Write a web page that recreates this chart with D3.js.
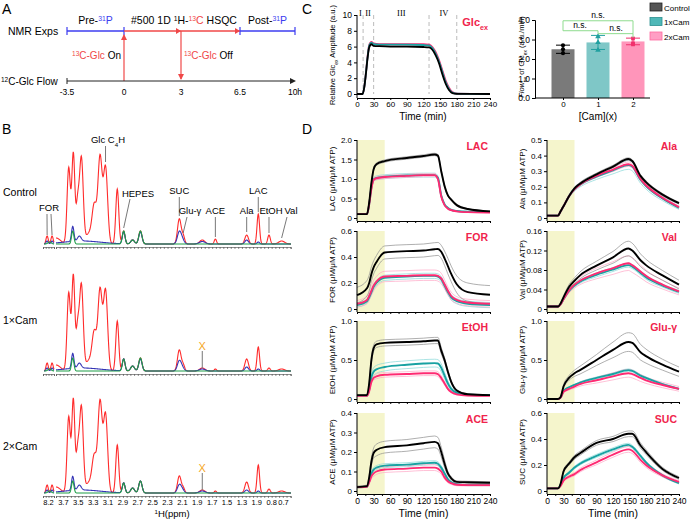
<!DOCTYPE html>
<html>
<head>
<meta charset="utf-8">
<script src="https://cdn.jsdelivr.net/npm/d3@7"></script>
<style>
body { margin: 0; background: #fff; }
svg { display: block; font-family: "Liberation Sans", Arial, sans-serif; }
</style>
</head>
<body>
<svg id="fig" width="693" height="519"></svg>
<script>
// ---------- data ----------
// panel A timeline (hours)
const timeTicks = [-3.5, 0, 3, 6.5, 10];
const timeLabels = ["-3.5", "0", "3", "6.5", "10h"];
const glcOn = 0, glcOff = 3;

// panel B peaks: [ppm, height, width]
const forRed = [[8.225, 8, 0.02], [8.135, 8, 0.02]];
const forBlue = [[8.225, 3, 0.02], [8.135, 3, 0.02]];
const forGreen = [[8.18, 2, 0.03]];
const ctrlRed = [[3.80, 6, 0.06], [3.629, 76, 0.022], [3.567, 90, 0.02], [3.51, 38, 0.02], [3.459, 86, 0.025], [3.36, 10, 0.04], [3.285, 38, 0.03], [3.208, 86, 0.028], [3.134, 76, 0.028], [2.976, 55, 0.02], [2.89, 13, 0.018], [2.77, 4, 0.025], [2.665, 13, 0.022], [2.142, 25, 0.024], [2.09, 8, 0.02], [1.833, 4, 0.035], [1.657, 5, 0.015], [1.236, 9, 0.024], [1.08, 30, 0.017], [0.936, 9, 0.017], [0.766, 3, 0.04]];
const ctrlBlue = [[3.45, 3, 0.25], [3.575, 15, 0.016], [3.486, 5, 0.025], [2.89, 12, 0.018], [2.77, 4, 0.025], [2.665, 12, 0.022], [2.142, 12, 0.026], [2.10, 4, 0.025], [1.833, 2.5, 0.04], [1.236, 4, 0.024], [1.08, 2, 0.017]];
const ctrlGreen = [[3.575, 13, 0.016], [2.89, 13, 0.018], [2.77, 4, 0.025], [2.665, 13, 0.022]];
const cam1Red = [[3.80, 6, 0.06], [3.629, 78, 0.022], [3.567, 95, 0.02], [3.51, 40, 0.02], [3.459, 86, 0.025], [3.36, 10, 0.04], [3.285, 38, 0.03], [3.208, 80, 0.028], [3.134, 80, 0.028], [2.976, 50, 0.02], [2.89, 12, 0.018], [2.77, 5, 0.025], [2.665, 13, 0.022], [2.142, 21, 0.024], [2.09, 6, 0.02], [1.833, 3, 0.035], [1.657, 2, 0.015], [1.236, 12, 0.024], [1.08, 24, 0.017], [0.936, 3, 0.017], [0.766, 2, 0.04]];
const cam1Blue = [[3.45, 3, 0.25], [3.575, 15, 0.016], [3.486, 5, 0.025], [2.89, 12, 0.018], [2.77, 5, 0.025], [2.665, 12, 0.022], [2.142, 10, 0.026], [2.10, 3, 0.025], [1.833, 2, 0.04], [1.236, 4, 0.024], [1.08, 2, 0.017]];
const cam1Green = [[3.575, 13, 0.016], [2.89, 12, 0.018], [2.77, 5, 0.025], [2.665, 13, 0.022]];
const cam2Red = [[3.80, 6, 0.06], [3.629, 76, 0.022], [3.567, 93, 0.02], [3.51, 38, 0.02], [3.459, 86, 0.025], [3.36, 10, 0.04], [3.285, 36, 0.03], [3.208, 90, 0.028], [3.134, 78, 0.028], [2.976, 48, 0.02], [2.89, 10, 0.018], [2.77, 5, 0.025], [2.665, 12, 0.022], [2.142, 17, 0.024], [2.09, 5, 0.02], [1.833, 3, 0.035], [1.657, 2, 0.015], [1.236, 11, 0.024], [1.08, 28, 0.017], [0.936, 4, 0.017], [0.766, 2, 0.04]];
const cam2Blue = [[3.45, 3, 0.25], [3.575, 14, 0.016], [3.486, 5, 0.025], [2.89, 10, 0.018], [2.77, 5, 0.025], [2.665, 12, 0.022], [2.142, 8, 0.026], [2.10, 3, 0.025], [1.833, 2, 0.04], [1.236, 3, 0.024], [1.08, 2, 0.017]];
const cam2Green = [[3.575, 12, 0.016], [2.89, 10, 0.018], [2.77, 5, 0.025], [2.665, 12, 0.022]];
const ppmTicks = [3.7, 3.5, 3.3, 3.1, 2.9, 2.7, 2.5, 2.3, 2.1, 1.9, 1.7, 1.5, 1.3, 1.1, 0.9, 0.74];
const ppmLabels = ["3.7", "3.5", "3.3", "3.1", "2.9", "2.7", "2.5", "2.3", "2.1", "1.9", "1.7", "1.5", "1.3", "1.9", "0.8", "0.7"];

// panel C: Glc_ex amplitude
const tGlc = [0, 10, 13, 16, 19, 22, 26, 30, 40, 60, 90, 120, 130, 136, 142, 148, 154, 160, 166, 172, 180, 240];
const glcCtrl = [0, 0, 0.8, 2.5, 4.5, 5.9, 6.3, 6.1, 6.05, 6.0, 6.0, 5.95, 5.9, 5.6, 4.9, 3.9, 2.5, 1.3, 0.5, 0.12, 0.02, 0];
const glc1x = [0, 0, 0.8, 2.6, 4.6, 6.1, 6.5, 6.3, 6.25, 6.25, 6.25, 6.2, 6.15, 5.8, 5.1, 4.1, 2.8, 1.5, 0.65, 0.2, 0.04, 0];
const glc2x = [0, 0, 0.8, 2.6, 4.7, 6.2, 6.6, 6.4, 6.3, 6.3, 6.3, 6.3, 6.25, 5.95, 5.3, 4.3, 3.0, 1.7, 0.8, 0.25, 0.05, 0];
const phaseLines = [11, 30, 130, 180];
const phaseNames = ["I", "II", "III", "IV"];
const phaseMid = [6, 20, 80, 157];

// panel C: flow bars
const camDose = ["0", "1", "2"];
const flowMean = [2.5, 2.85, 2.9];
const flowSd = [0.21, 0.36, 0.17];
const flowPts = [[2.3, 2.5, 2.7], [2.45, 2.85, 3.15], [2.75, 2.8, 3.05]];
const groupNames = ["Control", "1xCam", "2xCam"];

// panel D: time courses
const tF = [0, 18, 22, 26, 30, 35, 50, 90, 120, 140, 146, 152, 158, 164, 170, 180, 200, 240];
const lacCtrl = [0.10, 0.10, 0.40, 0.90, 1.25, 1.38, 1.46, 1.54, 1.59, 1.63, 1.60, 1.20, 0.82, 0.58, 0.47, 0.33, 0.23, 0.17];
const lacCtrlSd = [0.01, 0.01, 0.02, 0.03, 0.03, 0.03, 0.03, 0.03, 0.03, 0.03, 0.03, 0.03, 0.03, 0.02, 0.02, 0.02, 0.01, 0.01];
const lac1x = [0.10, 0.10, 0.35, 0.78, 0.99, 1.03, 1.06, 1.09, 1.10, 1.10, 1.03, 0.58, 0.35, 0.26, 0.21, 0.18, 0.16, 0.15];
const lac1xSd = [0.01, 0.01, 0.03, 0.05, 0.05, 0.05, 0.05, 0.05, 0.05, 0.05, 0.05, 0.04, 0.03, 0.02, 0.02, 0.01, 0.01, 0.01];
const lac2x = [0.10, 0.10, 0.35, 0.75, 0.98, 1.02, 1.05, 1.08, 1.10, 1.10, 1.00, 0.55, 0.33, 0.24, 0.20, 0.17, 0.15, 0.14];
const lac2xSd = [0.01, 0.01, 0.03, 0.04, 0.04, 0.04, 0.04, 0.04, 0.04, 0.04, 0.04, 0.03, 0.02, 0.02, 0.01, 0.01, 0.01, 0.01];
const forCtrl = [0.107, 0.16, 0.20, 0.27, 0.32, 0.36, 0.435, 0.445, 0.45, 0.46, 0.462, 0.44, 0.39, 0.33, 0.27, 0.19, 0.13, 0.11];
const forCtrlSd = [0.06, 0.06, 0.06, 0.055, 0.05, 0.05, 0.05, 0.05, 0.05, 0.05, 0.05, 0.05, 0.055, 0.06, 0.06, 0.065, 0.07, 0.07];
const for1x = [0.03, 0.06, 0.09, 0.13, 0.17, 0.20, 0.24, 0.25, 0.255, 0.255, 0.25, 0.23, 0.18, 0.13, 0.09, 0.06, 0.04, 0.03];
const for1xSd = [0.015, 0.015, 0.02, 0.02, 0.02, 0.02, 0.02, 0.02, 0.02, 0.02, 0.02, 0.02, 0.02, 0.02, 0.02, 0.02, 0.02, 0.02];
const for2x = [0.04, 0.07, 0.10, 0.14, 0.18, 0.21, 0.25, 0.255, 0.26, 0.26, 0.255, 0.235, 0.19, 0.14, 0.10, 0.07, 0.05, 0.04];
const for2xSd = [0.025, 0.03, 0.03, 0.035, 0.04, 0.04, 0.04, 0.04, 0.04, 0.04, 0.04, 0.04, 0.035, 0.03, 0.03, 0.025, 0.025, 0.025];
const etohCtrl = [0.05, 0.05, 0.20, 0.50, 0.65, 0.70, 0.72, 0.73, 0.74, 0.75, 0.75, 0.62, 0.50, 0.35, 0.22, 0.11, 0.06, 0.05];
const etohCtrlSd = [0.005, 0.005, 0.02, 0.04, 0.04, 0.04, 0.04, 0.04, 0.04, 0.04, 0.04, 0.04, 0.03, 0.02, 0.015, 0.01, 0.005, 0.005];
const etoh1x = [0.04, 0.04, 0.12, 0.28, 0.35, 0.38, 0.41, 0.44, 0.455, 0.46, 0.455, 0.40, 0.30, 0.20, 0.13, 0.08, 0.055, 0.05];
const etoh1xSd = [0.005, 0.005, 0.02, 0.04, 0.05, 0.05, 0.05, 0.05, 0.05, 0.05, 0.05, 0.05, 0.04, 0.03, 0.02, 0.01, 0.005, 0.005];
const etoh2x = [0.04, 0.04, 0.10, 0.22, 0.27, 0.29, 0.31, 0.32, 0.33, 0.33, 0.32, 0.27, 0.20, 0.13, 0.09, 0.06, 0.045, 0.04];
const etoh2xSd = [0.005, 0.005, 0.01, 0.02, 0.025, 0.03, 0.03, 0.03, 0.03, 0.03, 0.03, 0.03, 0.02, 0.015, 0.01, 0.008, 0.005, 0.005];
const aceCtrl = [0.02, 0.025, 0.07, 0.15, 0.195, 0.21, 0.225, 0.234, 0.245, 0.252, 0.245, 0.20, 0.14, 0.09, 0.065, 0.047, 0.045, 0.042];
const aceCtrlSd = [0.005, 0.005, 0.01, 0.02, 0.025, 0.03, 0.03, 0.03, 0.03, 0.03, 0.03, 0.025, 0.02, 0.01, 0.008, 0.005, 0.005, 0.005];
const ace1x = [0.02, 0.022, 0.05, 0.09, 0.11, 0.12, 0.13, 0.135, 0.142, 0.145, 0.14, 0.12, 0.09, 0.06, 0.045, 0.035, 0.03, 0.03];
const ace1xSd = [0.003, 0.003, 0.005, 0.008, 0.01, 0.01, 0.01, 0.01, 0.01, 0.01, 0.01, 0.01, 0.008, 0.006, 0.005, 0.004, 0.003, 0.003];
const ace2x = [0.02, 0.022, 0.045, 0.075, 0.09, 0.10, 0.11, 0.115, 0.12, 0.12, 0.115, 0.10, 0.07, 0.05, 0.04, 0.032, 0.03, 0.03];
const ace2xSd = [0.003, 0.003, 0.008, 0.012, 0.015, 0.015, 0.015, 0.015, 0.015, 0.015, 0.015, 0.013, 0.01, 0.008, 0.006, 0.005, 0.004, 0.004];

const tS = [0, 20, 25, 30, 40, 50, 60, 90, 120, 148, 155, 170, 180, 210, 240];
const alaCtrl = [0.015, 0.015, 0.045, 0.075, 0.14, 0.19, 0.22, 0.28, 0.33, 0.378, 0.365, 0.27, 0.23, 0.15, 0.095];
const alaCtrlSd = [0.003, 0.003, 0.004, 0.005, 0.006, 0.007, 0.008, 0.008, 0.008, 0.008, 0.008, 0.008, 0.008, 0.007, 0.006];
const ala1x = [0.015, 0.015, 0.045, 0.075, 0.14, 0.185, 0.213, 0.265, 0.305, 0.34, 0.33, 0.245, 0.205, 0.125, 0.065];
const ala1xSd = [0.003, 0.003, 0.004, 0.006, 0.01, 0.012, 0.014, 0.018, 0.022, 0.028, 0.028, 0.022, 0.02, 0.014, 0.01];
const ala2x = [0.015, 0.015, 0.045, 0.075, 0.14, 0.185, 0.215, 0.27, 0.31, 0.345, 0.335, 0.25, 0.21, 0.13, 0.07];
const ala2xSd = [0.003, 0.003, 0.004, 0.005, 0.006, 0.008, 0.009, 0.01, 0.012, 0.014, 0.014, 0.012, 0.01, 0.008, 0.006];
const valCtrl = [0.005, 0.005, 0.012, 0.024, 0.045, 0.058, 0.069, 0.089, 0.106, 0.124, 0.12, 0.10, 0.09, 0.069, 0.05];
const valCtrlSd = [0.002, 0.002, 0.002, 0.003, 0.005, 0.006, 0.007, 0.009, 0.012, 0.015, 0.015, 0.013, 0.012, 0.01, 0.009];
const val1x = [0.005, 0.005, 0.01, 0.02, 0.037, 0.048, 0.056, 0.07, 0.081, 0.09, 0.087, 0.074, 0.065, 0.048, 0.035];
const val1xSd = [0.001, 0.001, 0.002, 0.002, 0.003, 0.003, 0.003, 0.004, 0.004, 0.004, 0.004, 0.004, 0.004, 0.003, 0.003];
const val2x = [0.005, 0.005, 0.01, 0.02, 0.038, 0.05, 0.058, 0.073, 0.084, 0.094, 0.09, 0.077, 0.068, 0.05, 0.036];
const val2xSd = [0.002, 0.002, 0.002, 0.003, 0.005, 0.007, 0.008, 0.011, 0.013, 0.015, 0.015, 0.013, 0.012, 0.009, 0.007];
const gluCtrl = [0, 0, 0.03, 0.16, 0.27, 0.33, 0.37, 0.50, 0.63, 0.73, 0.72, 0.60, 0.55, 0.44, 0.35];
const gluCtrlSd = [0.003, 0.003, 0.005, 0.02, 0.03, 0.04, 0.05, 0.07, 0.1, 0.12, 0.12, 0.1, 0.09, 0.07, 0.06];
const glu1x = [0, 0, 0.02, 0.10, 0.15, 0.18, 0.21, 0.27, 0.32, 0.37, 0.36, 0.30, 0.27, 0.19, 0.13];
const glu1xSd = [0.002, 0.002, 0.003, 0.005, 0.006, 0.008, 0.01, 0.012, 0.014, 0.015, 0.015, 0.014, 0.013, 0.01, 0.008];
const glu2x = [0, 0, 0.02, 0.09, 0.13, 0.16, 0.19, 0.24, 0.29, 0.33, 0.32, 0.27, 0.24, 0.18, 0.13];
const glu2xSd = [0.002, 0.002, 0.004, 0.01, 0.015, 0.02, 0.025, 0.035, 0.045, 0.05, 0.05, 0.045, 0.04, 0.035, 0.03];
const sucCtrl = [0.02, 0.02, 0.06, 0.15, 0.21, 0.26, 0.29, 0.37, 0.40, 0.44, 0.44, 0.35, 0.30, 0.17, 0.10];
const sucCtrlSd = [0.003, 0.003, 0.005, 0.01, 0.012, 0.015, 0.015, 0.018, 0.02, 0.022, 0.022, 0.02, 0.018, 0.012, 0.01];
const suc1x = [0.02, 0.02, 0.05, 0.10, 0.14, 0.18, 0.21, 0.27, 0.32, 0.355, 0.34, 0.27, 0.22, 0.12, 0.06];
const suc1xSd = [0.002, 0.002, 0.004, 0.006, 0.008, 0.01, 0.01, 0.012, 0.012, 0.012, 0.012, 0.01, 0.01, 0.008, 0.006];
const suc2x = [0.02, 0.02, 0.04, 0.08, 0.11, 0.13, 0.16, 0.22, 0.28, 0.32, 0.31, 0.24, 0.20, 0.12, 0.07];
const suc2xSd = [0.002, 0.002, 0.004, 0.008, 0.01, 0.012, 0.014, 0.018, 0.02, 0.022, 0.022, 0.02, 0.018, 0.012, 0.01];

// ---------- styles ----------
const RED = "#f04848", BLUE = "#3c3cf0";
const SPEC_RED = "#ff2b2b", SPEC_BLUE = "#3535b5", SPEC_GREEN = "#1f9e48";
const C_CTRL = "#000", C_1X = "#18a2a2", C_2X = "#ff2a72";
const SD_CTRL = "#8c8c8c", SD_1X = "#86d8d8", SD_2X = "#ffa6c6";

const svg = d3.select("#fig");

// text with sub/superscripts and coloured parts
function rich(sel, x, y, parts, o = {}) {
    const t = sel.append("text").attr("x", x).attr("y", y)
        .attr("font-size", o.size || 10)
        .attr("text-anchor", o.anchor || "start");
    if (o.rotate) t.attr("transform", `rotate(-90,${x},${y})`);
    if (o.weight) t.attr("font-weight", o.weight);
    parts.forEach(p => {
        const s = t.append("tspan").text(p.t).attr("fill", p.c || o.fill || "#000");
        if (p.sup) s.attr("baseline-shift", "super").attr("font-size", "65%");
        if (p.sub) s.attr("baseline-shift", "sub").attr("font-size", "65%");
        if (p.it) s.attr("font-style", "italic");
    });
    return t;
}

function panelLetter(ch, x, y) {
    svg.append("text").attr("x", x).attr("y", y).attr("font-size", 14).text(ch);
}

// ================= Panel A =================
panelLetter("A", 2, 14);
const tl = d3.scaleLinear().domain(timeTicks).range([67, 124, 181, 240, 295]);
const gA = svg.append("g");
const topY = 31, flowY = 81;

const phases = [
    { from: -3.5, to: 0, color: BLUE },
    { from: 0, to: 6.5, color: RED },
    { from: 6.5, to: 10, color: BLUE }
];
phases.forEach(p => {
    gA.append("line").attr("x1", tl(p.from)).attr("x2", tl(p.to))
        .attr("y1", topY).attr("y2", topY)
        .attr("stroke", p.color).attr("stroke-width", 1.3);
    if (p.color === BLUE) {
        [p.from, p.to].forEach(v => gA.append("line")
            .attr("x1", tl(v)).attr("x2", tl(v)).attr("y1", topY - 4).attr("y2", topY + 4)
            .attr("stroke", BLUE).attr("stroke-width", 1.2));
    }
});
// right pointing heads on the HSQC segment
[glcOff, 6.5].forEach(v => gA.append("path")
    .attr("d", `M${tl(v) - 5},${topY - 3}L${tl(v)},${topY}L${tl(v) - 5},${topY + 3}Z`)
    .attr("fill", RED));
// 13C-Glc on / off arrows
gA.append("line").attr("x1", tl(glcOn)).attr("x2", tl(glcOn)).attr("y1", flowY).attr("y2", topY + 4)
    .attr("stroke", RED).attr("stroke-width", 1.2);
gA.append("path").attr("d", `M${tl(glcOn) - 3},${topY + 9}L${tl(glcOn)},${topY + 3}L${tl(glcOn) + 3},${topY + 9}Z`).attr("fill", RED);
gA.append("line").attr("x1", tl(glcOff)).attr("x2", tl(glcOff)).attr("y1", topY).attr("y2", flowY - 2)
    .attr("stroke", RED).attr("stroke-width", 1.2);
gA.append("path").attr("d", `M${tl(glcOff) - 3},${flowY - 7}L${tl(glcOff)},${flowY - 1}L${tl(glcOff) + 3},${flowY - 7}Z`).attr("fill", RED);
// 12C-Glc flow axis
gA.append("line").attr("x1", tl(-3.5)).attr("x2", tl(10) - 3).attr("y1", flowY).attr("y2", flowY)
    .attr("stroke", "#222").attr("stroke-width", 1);
gA.append("line").attr("x1", tl(-3.5)).attr("x2", tl(-3.5)).attr("y1", flowY - 3).attr("y2", flowY + 3)
    .attr("stroke", "#222");
gA.append("path").attr("d", `M${tl(10) - 5},${flowY - 3}L${tl(10) + 1},${flowY}L${tl(10) - 5},${flowY + 3}Z`).attr("fill", "#222");
gA.selectAll(".tl").data(timeTicks).enter().append("text")
    .attr("x", d => tl(d)).attr("y", 95).attr("text-anchor", "middle")
    .attr("font-size", 8.5).text((d, i) => timeLabels[i]);

gA.append("text").attr("x", 8).attr("y", 35).attr("font-size", 10.5).text("NMR Exps");
rich(gA, 1, 85, [{ t: "12", sup: true }, { t: "C-Glc Flow" }], { size: 10 });
rich(gA, (tl(-3.5) + tl(0)) / 2, 24, [{ t: "Pre-" }, { t: "31", sup: true, c: BLUE }, { t: "P", c: BLUE }], { anchor: "middle", size: 10.5 });
rich(gA, (tl(0) + tl(6.5)) / 2 + 2, 24, [{ t: "#500 1D " }, { t: "1", sup: true }, { t: "H-" }, { t: "13", sup: true, c: RED }, { t: "C", c: RED }, { t: " HSQC" }], { anchor: "middle", size: 10.5 });
rich(gA, (tl(6.5) + tl(10)) / 2, 24, [{ t: "Post-" }, { t: "31", sup: true, c: BLUE }, { t: "P", c: BLUE }], { anchor: "middle", size: 10.5 });
rich(gA, tl(glcOn) - 3, 59, [{ t: "13", sup: true, c: RED }, { t: "C-Glc", c: RED }, { t: " On" }], { anchor: "end", size: 10 });
rich(gA, tl(glcOff) + 3, 59, [{ t: "13", sup: true, c: RED }, { t: "C-Glc", c: RED }, { t: " Off" }], { size: 10 });

// ================= Panel B =================
panelLetter("B", 2, 134);
const gB = svg.append("g");
const sx = d3.scaleLinear().domain([3.8, 0.64]).range([56, 291]);
const sf = d3.scaleLinear().domain([8.3, 8.1]).range([43, 54]);

function sumPeaks(peaks, from, to) {
    const pts = [];
    for (let p = from; p >= to - 1e-9; p -= 0.004) {
        let v = 0;
        peaks.forEach(([c, h, w]) => { v += h * Math.exp(-0.5 * ((p - c) / w) ** 2); });
        pts.push([p, v]);
    }
    return pts;
}

const spectra = [
    { label: "Control", base: 244, labelY: 196, red: ctrlRed, blue: ctrlBlue, green: ctrlGreen },
    { label: "1×Cam", base: 371, labelY: 324, red: cam1Red, blue: cam1Blue, green: cam1Green },
    { label: "2×Cam", base: 493, labelY: 450, red: cam2Red, blue: cam2Blue, green: cam2Green }
];
spectra.forEach((s, si) => {
    const sy = d3.scaleLinear().domain([0, 100]).range([s.base, s.base - 100]);
    const lineMain = d3.line().x(d => sx(d[0])).y(d => sy(d[1]));
    const lineFor = d3.line().x(d => sf(d[0])).y(d => sy(d[1]));
    [[s.red, forRed, SPEC_RED], [s.blue, forBlue, SPEC_BLUE], [s.green, forGreen, SPEC_GREEN]].forEach(([pk, fpk, col]) => {
        gB.append("path").attr("d", lineMain(sumPeaks(pk, 3.8, 0.64)))
            .attr("fill", "none").attr("stroke", col).attr("stroke-width", 1.1);
        gB.append("path").attr("d", lineFor(sumPeaks(fpk, 8.28, 8.1)))
            .attr("fill", "none").attr("stroke", col).attr("stroke-width", 1.1);
    });
    const axY = s.base + 3;
    const last = si === spectra.length - 1;
    gB.append("g").attr("transform", `translate(0,${axY})`)
        .call(d3.axisBottom(sx).tickValues(d3.range(3.8, 0.63, -0.05)).tickSize(2).tickFormat(""))
        .call(g => g.selectAll("line,path").attr("stroke", "#444").attr("stroke-width", 0.6));
    gB.append("g").attr("transform", `translate(0,${axY})`)
        .call(d3.axisBottom(sf).tickValues(d3.range(8.3, 8.09, -0.05)).tickSize(2).tickFormat(""))
        .call(g => g.selectAll("line,path").attr("stroke", "#444").attr("stroke-width", 0.6));
    if (last) {
        gB.selectAll(".pl").data(ppmTicks).enter().append("text")
            .attr("x", d => sx(d)).attr("y", axY + 9).attr("text-anchor", "middle")
            .attr("font-size", 7.5).text((d, i) => ppmLabels[i]);
        gB.append("text").attr("x", sf(8.2)).attr("y", axY + 9).attr("text-anchor", "middle")
            .attr("font-size", 7.5).text("8.2");
        rich(gB, 172, 517, [{ t: "1", sup: true }, { t: "H(ppm)" }], { anchor: "middle", size: 9.5 });
    }
    gB.append("text").attr("x", 3).attr("y", s.labelY).attr("font-size", 10.5).text(s.label);
    if (si > 0) {
        gB.append("line").attr("x1", sx(1.833)).attr("x2", sx(1.833))
            .attr("y1", s.base - 20).attr("y2", s.base - 3).attr("stroke", "#777").attr("stroke-width", 1);
        gB.append("text").attr("x", sx(1.833)).attr("y", s.base - 21).attr("text-anchor", "middle")
            .attr("font-size", 11).attr("fill", "#f5a623").text("X");
    }
});

// peak annotations on the control spectrum
const bNotes = [
    { t: "HEPES", tx: 138, ty: 197, p: [[130, 199], [sx(2.89), 228]] },
    { t: "SUC", tx: sx(2.142), ty: 194, p: [[sx(2.142), 197], [sx(2.142), 216]] },
    { t: "Glu-γ", tx: 190, ty: 214, p: [[187, 217], [sx(2.09), 233]] },
    { t: "ACE", tx: sx(1.657), ty: 214, p: [[sx(1.657), 217], [sx(1.657), 237]] },
    { t: "Ala", tx: sx(1.236), ty: 214, p: [[sx(1.236), 217], [sx(1.236), 232]] },
    { t: "LAC", tx: sx(1.08), ty: 194, p: [[sx(1.08), 197], [sx(1.08), 212]] },
    { t: "EtOH", tx: 271, ty: 214, p: [[sx(0.936), 217], [sx(0.936), 233]] },
    { t: "Val", tx: 291, ty: 214, p: [[287, 217], [sx(0.766), 238]] },
    { t: "FOR", tx: 49, ty: 211, p: [[47, 214], [sf(8.225), 235]] }
];
bNotes.forEach(n => {
    gB.append("text").attr("x", n.tx).attr("y", n.ty).attr("text-anchor", "middle").attr("font-size", 9.5).text(n.t);
    gB.append("path").attr("d", d3.line()(n.p)).attr("stroke", "#555").attr("stroke-width", 0.8).attr("fill", "none");
});
gB.append("path").attr("d", d3.line()([[51, 214], [sf(8.135), 235]])).attr("stroke", "#555").attr("stroke-width", 0.8);
rich(gB, 108, 143, [{ t: "Glc C" }, { t: "4", sub: true }, { t: "H" }], { anchor: "middle", size: 9.5 });
gB.append("line").attr("x1", sx(3.134)).attr("x2", sx(3.134)).attr("y1", 146).attr("y2", 162).attr("stroke", "#555").attr("stroke-width", 0.8);

// ================= Panel C (left) =================
panelLetter("C", 302, 14);
const gC = svg.append("g");
const cx = d3.scaleLinear().domain([0, 240]).range([357, 490]);
const cy = d3.scaleLinear().domain([0, 10]).range([94, 15]);
phaseLines.forEach(v => gC.append("line").attr("x1", cx(v)).attr("x2", cx(v)).attr("y1", cy(10)).attr("y2", cy(0))
    .attr("stroke", "#aaa").attr("stroke-dasharray", "4,3").attr("stroke-width", 0.8));
phaseNames.forEach((n, i) => gC.append("text").attr("x", cx(phaseMid[i])).attr("y", 16)
    .attr("text-anchor", "middle").attr("font-family", "'Liberation Serif', serif").attr("font-size", 8.5).text(n));
const glcLine = d3.line().x((d, i) => cx(tGlc[i])).y(d => cy(d)).curve(d3.curveMonotoneX);
[[glc2x, C_2X], [glc1x, C_1X], [glcCtrl, C_CTRL]].forEach(([arr, col]) => {
    gC.append("path").attr("d", glcLine(arr)).attr("fill", "none").attr("stroke", col).attr("stroke-width", 1.8);
});
gC.append("g").attr("transform", "translate(357,0)")
    .call(d3.axisLeft(cy).tickValues([0, 2, 4, 6, 8, 10]).tickSize(3).tickPadding(2))
    .call(g => g.select(".domain").attr("d", `M0,${cy(10)}V98`))
    .call(g => g.selectAll("text").attr("font-size", 8.5).attr("font-family", null));
gC.append("g").attr("transform", "translate(0,98)")
    .call(d3.axisBottom(cx).tickValues(d3.range(0, 241, 30)).tickSize(2).tickPadding(1))
    .call(g => g.selectAll("text").attr("font-size", 8).attr("font-family", null));
gC.append("text").attr("x", 423).attr("y", 120).attr("text-anchor", "middle").attr("font-size", 10).text("Time (min)");
rich(gC, 335, 55, [{ t: "Relative Glc" }, { t: "ex", sub: true }, { t: " Amplitude (a.u.)" }], { rotate: true, anchor: "middle", size: 7.5 });
rich(gC, 488, 26, [{ t: "Glc" }, { t: "ex", sub: true }], { anchor: "end", size: 11, weight: "bold", fill: "#f0244c" });

// ================= Panel C (right) bars =================
const gBar = svg.append("g");
const bx = d3.scalePoint().domain(camDose).range([563, 633]);
const by = d3.scaleLinear().domain([0, 4]).range([98, 20]);
const barFill = ["#7a7a7a", "#7fc7c7", "#ff95ba"];
const barDot = ["#000", "#20a0a0", "#f0306c"];
const bw = 23;
gBar.selectAll(".bar").data(flowMean).enter().append("rect")
    .attr("x", (d, i) => bx(camDose[i]) - bw / 2).attr("width", bw)
    .attr("y", d => by(d)).attr("height", d => by(0) - by(d))
    .attr("fill", (d, i) => barFill[i]);
flowMean.forEach((m, i) => {
    const xc = bx(camDose[i]);
    gBar.append("line").attr("x1", xc).attr("x2", xc).attr("y1", by(m - flowSd[i])).attr("y2", by(m + flowSd[i]))
        .attr("stroke", barDot[i]).attr("stroke-width", 1);
    [m - flowSd[i], m + flowSd[i]].forEach(v => gBar.append("line").attr("x1", xc - 7).attr("x2", xc + 7)
        .attr("y1", by(v)).attr("y2", by(v)).attr("stroke", barDot[i]).attr("stroke-width", 1));
    const sym = [d3.symbolCircle, d3.symbolTriangle, d3.symbolSquare][i];
    flowPts[i].forEach(v => gBar.append("path").attr("d", d3.symbol(sym, 14)())
        .attr("transform", `translate(${xc},${by(v)})`).attr("fill", barDot[i]));
});
// significance brackets
const BR = "#8fdc8f";
const brackets = [
    { a: 0, b: 2, y: 3.96, la: 3.45, lb: 3.3, tx: 598, ty: 18 },
    { a: 0, b: 1, y: 3.45, la: 3.45, lb: 3.3, tx: 580, ty: 28 },
    { a: 1, b: 2, y: 3.3, la: 3.3, lb: 3.1, tx: 616, ty: 31 }
];
brackets.forEach(k => {
    gBar.append("path").attr("d", d3.line()([[bx(camDose[k.a]), by(k.la)], [bx(camDose[k.a]), by(k.y)], [bx(camDose[k.b]), by(k.y)], [bx(camDose[k.b]), by(k.lb)]]))
        .attr("fill", "none").attr("stroke", BR).attr("stroke-width", 1);
    gBar.append("text").attr("x", k.tx).attr("y", k.ty).attr("text-anchor", "middle").attr("font-size", 8.5).text("n.s.");
});
gBar.append("g").attr("transform", "translate(535,0)")
    .call(d3.axisLeft(by).tickValues([0, 1, 2, 3, 4]).tickSize(3).tickPadding(2))
    .call(g => g.selectAll("text").attr("font-size", 8.5).attr("font-family", null));
gBar.append("g").attr("transform", "translate(0,98)")
    .call(d3.axisBottom(bx).tickSize(2).tickPadding(1))
    .call(g => g.select(".domain").attr("d", "M535,0H650"))
    .call(g => g.selectAll("text").attr("font-size", 8).attr("font-family", null));
gBar.append("text").attr("x", 598).attr("y", 120).attr("text-anchor", "middle").attr("font-size", 10).text("[Cam](x)");
rich(gBar, 524, 57, [{ t: "Flow", it: true }, { t: "ex", sub: true }, { t: " of Glc" }, { t: "ex", sub: true }, { t: " (a.u./min)" }], { rotate: true, anchor: "middle", size: 7.5 });
const legFill = ["#555", "#4fb8b8", "#ff9ec4"];
const legStroke = ["#222", "#2a9090", "#ff6aa0"];
groupNames.forEach((n, i) => {
    gBar.append("rect").attr("x", 650).attr("y", 3 + i * 14.5).attr("width", 12).attr("height", 8)
        .attr("fill", legFill[i]).attr("stroke", legStroke[i]).attr("stroke-width", 0.8);
    gBar.append("text").attr("x", 664).attr("y", 10.5 + i * 14.5).attr("font-size", 8).text(n);
});

// ================= Panel D =================
panelLetter("D", 302, 134);
const gD = svg.append("g");
const rowTops = [140, 231, 321, 413];
const colX = [[357, 490], [547, 679]];
const plotH = 78;
const dPanels = [
    { name: "LAC", col: 0, row: 0, max: 2.0, ticks: [0, 0.5, 1, 1.5, 2], fmt: ".1f", t: tF, s: [[lac1x, lac1xSd], [lac2x, lac2xSd], [lacCtrl, lacCtrlSd]] },
    { name: "FOR", col: 0, row: 1, max: 0.6, ticks: [0, 0.2, 0.4, 0.6], fmt: ".1f", t: tF, s: [[for1x, for1xSd], [for2x, for2xSd], [forCtrl, forCtrlSd]] },
    { name: "EtOH", col: 0, row: 2, max: 1.0, ticks: [0, 0.5, 1], fmt: ".1f", t: tF, s: [[etoh1x, etoh1xSd], [etoh2x, etoh2xSd], [etohCtrl, etohCtrlSd]] },
    { name: "ACE", col: 0, row: 3, max: 0.4, ticks: [0, 0.1, 0.2, 0.3, 0.4], fmt: ".1f", t: tF, s: [[ace1x, ace1xSd], [ace2x, ace2xSd], [aceCtrl, aceCtrlSd]] },
    { name: "Ala", col: 1, row: 0, max: 0.5, ticks: [0, 0.1, 0.2, 0.3, 0.4, 0.5], fmt: ".1f", t: tS, s: [[ala1x, ala1xSd], [ala2x, ala2xSd], [alaCtrl, alaCtrlSd]] },
    { name: "Val", col: 1, row: 1, max: 0.16, ticks: [0, 0.04, 0.08, 0.12, 0.16], fmt: ".2f", t: tS, s: [[val1x, val1xSd], [val2x, val2xSd], [valCtrl, valCtrlSd]] },
    { name: "Glu-γ", col: 1, row: 2, max: 1.0, ticks: [0, 0.5, 1], fmt: ".1f", t: tS, s: [[glu1x, glu1xSd], [glu2x, glu2xSd], [gluCtrl, gluCtrlSd]] },
    { name: "SUC", col: 1, row: 3, max: 0.6, ticks: [0, 0.2, 0.4, 0.6], fmt: ".1f", t: tS, s: [[suc1x, suc1xSd], [suc2x, suc2xSd], [sucCtrl, sucCtrlSd]] }
];
const meanCol = [C_1X, C_2X, C_CTRL];
const sdCol = [SD_1X, SD_2X, SD_CTRL];

dPanels.forEach(p => {
    const [x0, x1] = colX[p.col];
    const top = rowTops[p.row], zero = top + plotH, axY = zero + 3;
    const x = d3.scaleLinear().domain([0, 240]).range([x0, x1]);
    const y = d3.scaleLinear().domain([0, p.max]).range([zero, top]);
    const g = gD.append("g");
    g.append("rect").attr("x", x(0)).attr("y", top).attr("width", x(50) - x(0)).attr("height", axY - top)
        .attr("fill", "#f5f5cc");
    const line = d3.line().x((d, i) => x(p.t[i])).y(d => y(d)).curve(d3.curveMonotoneX);
    // sd lines first
    p.s.forEach(([m, sd], k) => {
        [1, -1].forEach(sign => g.append("path")
            .attr("d", line(m.map((v, i) => v + sign * sd[i])))
            .attr("fill", "none").attr("stroke", sdCol[k]).attr("stroke-width", 0.7));
    });
    p.s.forEach(([m], k) => g.append("path").attr("d", line(m))
        .attr("fill", "none").attr("stroke", meanCol[k]).attr("stroke-width", 1.9));
    const last = p.row === 3;
    g.append("g").attr("transform", `translate(${x0},0)`)
        .call(d3.axisLeft(y).tickValues(p.ticks).tickSize(3).tickPadding(2)
            .tickFormat(d => d === 0 ? "0" : d3.format(p.fmt)(d)))
        .call(a => a.select(".domain").attr("d", `M0,${top}V${axY}`))
        .call(a => a.selectAll("text").attr("font-size", 8).attr("font-family", null));
    g.append("g").attr("transform", `translate(0,${axY})`)
        .call(d3.axisBottom(x).tickValues(d3.range(0, 241, 15)).tickSize(2).tickPadding(2)
            .tickFormat(d => (last && d % 30 === 0) ? d : ""))
        .call(a => a.selectAll("text").attr("font-size", 8.5).attr("font-family", null));
    g.append("text").attr("x", x1 - 2).attr("y", top + 10).attr("text-anchor", "end")
        .attr("font-size", 10.5).attr("font-weight", "bold").attr("fill", "#f0244c").text(p.name);
    rich(g, x0 - 22, top + plotH / 2, [{ t: p.name + " (μM/μM ATP)" }], { rotate: true, anchor: "middle", size: 8 });
    if (last) {
        g.append("text").attr("x", (x0 + x1) / 2).attr("y", 517).attr("text-anchor", "middle")
            .attr("font-size", 10.5).text("Time (min)");
    }
});
</script>
</body>
</html>
